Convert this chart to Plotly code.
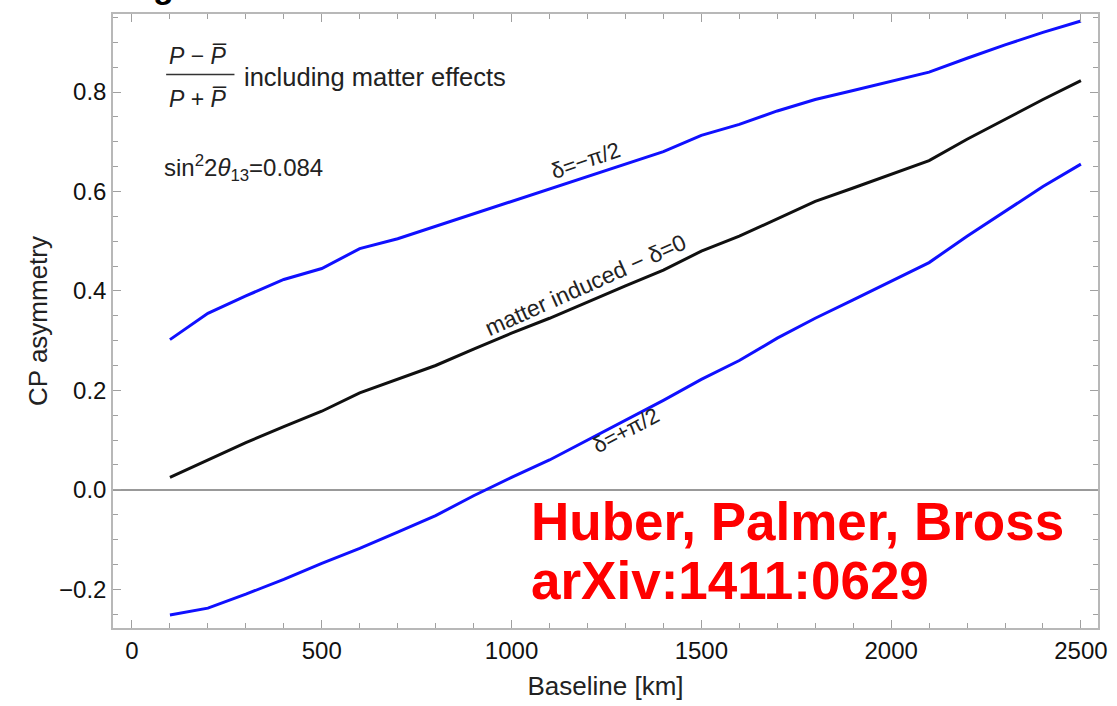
import plotly.graph_objects as go

baseline_km = [100, 200, 300, 400, 500, 600, 700, 800, 900, 1000, 1100, 1200, 1300,
               1400, 1500, 1600, 1700, 1800, 1900, 2000, 2100, 2200, 2300, 2400, 2500]

delta_minus_pi2 = [0.302, 0.355, 0.390, 0.423, 0.445, 0.485, 0.505, 0.530, 0.555, 0.580,
                   0.605, 0.630, 0.655, 0.680, 0.713, 0.735, 0.762, 0.785, 0.803, 0.822,
                   0.840, 0.868, 0.895, 0.920, 0.943]

delta_zero = [0.025, 0.060, 0.095, 0.127, 0.158, 0.195, 0.222, 0.250, 0.283, 0.315,
              0.345, 0.378, 0.410, 0.442, 0.480, 0.510, 0.545, 0.580, 0.607, 0.635,
              0.662, 0.705, 0.745, 0.785, 0.823]

delta_plus_pi2 = [-0.252, -0.238, -0.210, -0.180, -0.148, -0.118, -0.085, -0.052, -0.012, 0.025,
                  0.060, 0.100, 0.140, 0.180, 0.222, 0.260, 0.305, 0.345, 0.382, 0.420,
                  0.457, 0.510, 0.560, 0.610, 0.655]

x_ticks = [0, 500, 1000, 1500, 2000, 2500]
y_ticks = [-0.2, 0.0, 0.2, 0.4, 0.6, 0.8]
y_tick_labels = ["\u22120.2", "0.0", "0.2", "0.4", "0.6", "0.8"]

FONT = "Liberation Sans, Arial, Helvetica, sans-serif"

fig = go.Figure()
fig.add_trace(go.Scatter(x=baseline_km, y=delta_minus_pi2, mode="lines",
                         line=dict(color="#1010ff", width=3), showlegend=False))
fig.add_trace(go.Scatter(x=baseline_km, y=delta_zero, mode="lines",
                         line=dict(color="#101010", width=3), showlegend=False))
fig.add_trace(go.Scatter(x=baseline_km, y=delta_plus_pi2, mode="lines",
                         line=dict(color="#1010ff", width=3), showlegend=False))

frame = "#b8b8b8"
axis_common = dict(showline=True, linecolor=frame, linewidth=1.5, mirror="allticks",
                   ticks="inside", tickcolor="#a0a0a0", tickwidth=1, ticklen=8,
                   showgrid=False, tickfont=dict(family=FONT, size=24, color="#111"))

fig.update_xaxes(range=[-50, 2545], tickvals=x_ticks, zeroline=False,
                 minor=dict(dtick=100, tick0=0, ticks="inside", ticklen=5, tickcolor="#a0a0a0"),
                 title=dict(text="Baseline [km]", font=dict(family=FONT, size=26, color="#222"),
                            standoff=14),
                 **axis_common)
fig.update_yaxes(range=[-0.278, 0.957], tickvals=y_ticks, ticktext=y_tick_labels,
                 zeroline=True, zerolinecolor="#999999", zerolinewidth=1.5,
                 minor=dict(dtick=0.05, tick0=0, ticks="inside", ticklen=5, tickcolor="#a0a0a0"),
                 title=dict(text="CP asymmetry", font=dict(family=FONT, size=26, color="#222"),
                            standoff=4),
                 **axis_common)

ann = []
# cut-off title fragment at the very top (as in the reference)
ann.append(dict(x=0.051, y=1.012, xref="paper", yref="paper", text="<b>g</b>", showarrow=False,
                xanchor="center", yanchor="bottom", font=dict(family=FONT, size=34, color="#000")))
# line labels
ann.append(dict(x=1195, y=0.662, text="\u03b4=\u2212\u03c0/2", textangle=-19, showarrow=False,
                font=dict(family=FONT, size=22, color="#222"), xref="x", yref="y"))
ann.append(dict(x=1195, y=0.411, text="matter induced \u2212 \u03b4=0", textangle=-24, showarrow=False,
                font=dict(family=FONT, size=23, color="#222"), xref="x", yref="y"))
ann.append(dict(x=1300, y=0.120, text="\u03b4=+\u03c0/2", textangle=-28, showarrow=False,
                font=dict(family=FONT, size=22, color="#222"), xref="x", yref="y"))
# fraction header
ann.append(dict(x=175, y=0.872, text="<i>P</i> \u2212 <i>P\u0305</i>", showarrow=False,
                font=dict(family=FONT, size=23, color="#222"), xref="x", yref="y"))
ann.append(dict(x=175, y=0.786, text="<i>P</i> + <i>P\u0305</i>", showarrow=False,
                font=dict(family=FONT, size=23, color="#222"), xref="x", yref="y"))
ann.append(dict(x=290, y=0.831, text="including matter effects", xanchor="left", showarrow=False,
                font=dict(family=FONT, size=25.5, color="#222"), xref="x", yref="y"))
ann.append(dict(x=78, y=0.647, text="sin<sup>2</sup>2<i>\u03b8</i><sub>13</sub>=0.084", xanchor="left",
                showarrow=False, font=dict(family=FONT, size=24, color="#222"), xref="x", yref="y"))
# red citation
ann.append(dict(x=1046, y=-0.063, text="<b>Huber, Palmer, Bross</b>", xanchor="left", showarrow=False,
                font=dict(family=FONT, size=53, color="#ff0000"), xref="x", yref="y"))
ann.append(dict(x=1046, y=-0.183, text="<b>arXiv:1411:0629</b>", xanchor="left", showarrow=False,
                font=dict(family=FONT, size=53, color="#ff0000"), xref="x", yref="y"))

fig.update_layout(
    width=1117, height=706,
    margin=dict(l=113, r=10, t=14, b=78),
    paper_bgcolor="white", plot_bgcolor="white",
    annotations=ann,
    shapes=[dict(type="line", xref="x", yref="y", x0=90, x1=270, y0=0.8355, y1=0.8355,
                 line=dict(color="#333", width=1.5))],
)

fig.write_html("out.html")
